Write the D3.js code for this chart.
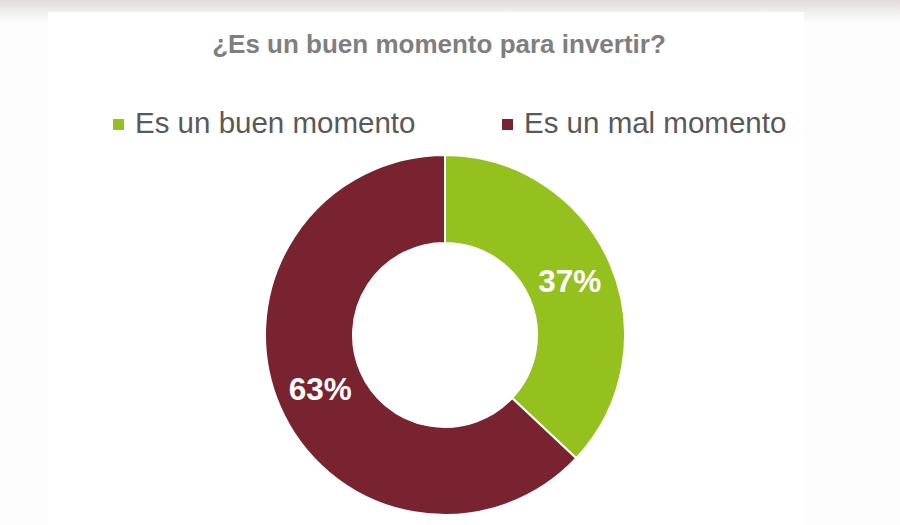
<!DOCTYPE html>
<html>
<head>
<meta charset="utf-8">
<script src="https://cdn.jsdelivr.net/npm/d3@7"></script>
<style>
  html, body { margin: 0; padding: 0; background: #fff; }
  svg { display: block; }
</style>
</head>
<body>
<svg id="chart" width="900" height="525"></svg>
<script>
// Data
var title = "¿Es un buen momento para invertir?";
var categories = ["Es un buen momento", "Es un mal momento"];
var values = [37, 63];
var colors = ["#95c11f", "#7a2330"];

var svg = d3.select("#chart");
var width = +svg.attr("width");
var height = +svg.attr("height");

// Background: slide-like frame with a soft shadow band on top
var defs = svg.append("defs");
var grad = defs.append("linearGradient")
    .attr("id", "topband")
    .attr("x1", 0).attr("y1", 0).attr("x2", 0).attr("y2", 1);
grad.append("stop").attr("offset", "0%").attr("stop-color", "#e2dbdb");
grad.append("stop").attr("offset", "55%").attr("stop-color", "#f1efef");
grad.append("stop").attr("offset", "100%").attr("stop-color", "#fbfbfb");

svg.append("rect")
    .attr("width", width).attr("height", height)
    .attr("fill", "#fdfdfd");
svg.append("rect")
    .attr("width", width).attr("height", 22)
    .attr("fill", "url(#topband)");
svg.append("rect")
    .attr("x", 48).attr("y", 12)
    .attr("width", 756).attr("height", height - 12)
    .attr("fill", "#fff");

// Title
svg.append("text")
    .attr("x", 439)
    .attr("y", 53)
    .attr("text-anchor", "middle")
    .attr("fill", "#7f7f7f")
    .style("font", "bold 26px 'Liberation Sans', Arial, sans-serif")
    .text(title);

// Legend
var legendX = [113, 502];
var legend = svg.selectAll(".legend")
  .data(categories)
  .enter().append("g")
    .attr("class", "legend")
    .attr("transform", function(d, i) { return "translate(" + legendX[i] + ",0)"; });

legend.append("rect")
    .attr("y", 119)
    .attr("width", 11)
    .attr("height", 11)
    .attr("fill", function(d, i) { return colors[i]; });

legend.append("text")
    .attr("x", 22)
    .attr("y", 133)
    .attr("fill", "#595959")
    .style("font", "29.5px 'Liberation Sans', Arial, sans-serif")
    .text(function(d) { return d; });

// Donut
var cx = 445, cy = 335;
var outer = 180, inner = 92;

var pie = d3.pie().sort(null).value(function(d) { return d; });
var arc = d3.arc().innerRadius(inner).outerRadius(outer);

var g = svg.append("g").attr("transform", "translate(" + cx + "," + cy + ")");
var arcs = pie(values);

g.selectAll("path")
  .data(arcs)
  .enter().append("path")
    .attr("d", arc)
    .attr("fill", function(d, i) { return colors[i]; })
    .attr("stroke", "#fff")
    .attr("stroke-width", 2);

g.selectAll(".label")
  .data(arcs)
  .enter().append("text")
    .attr("class", "label")
    .attr("transform", function(d) { return "translate(" + arc.centroid(d) + ")"; })
    .attr("dy", "0.36em")
    .attr("text-anchor", "middle")
    .attr("fill", "#fff")
    .style("font", "bold 31.5px 'Liberation Sans', Arial, sans-serif")
    .text(function(d) { return d.data + "%"; });
</script>
</body>
</html>
